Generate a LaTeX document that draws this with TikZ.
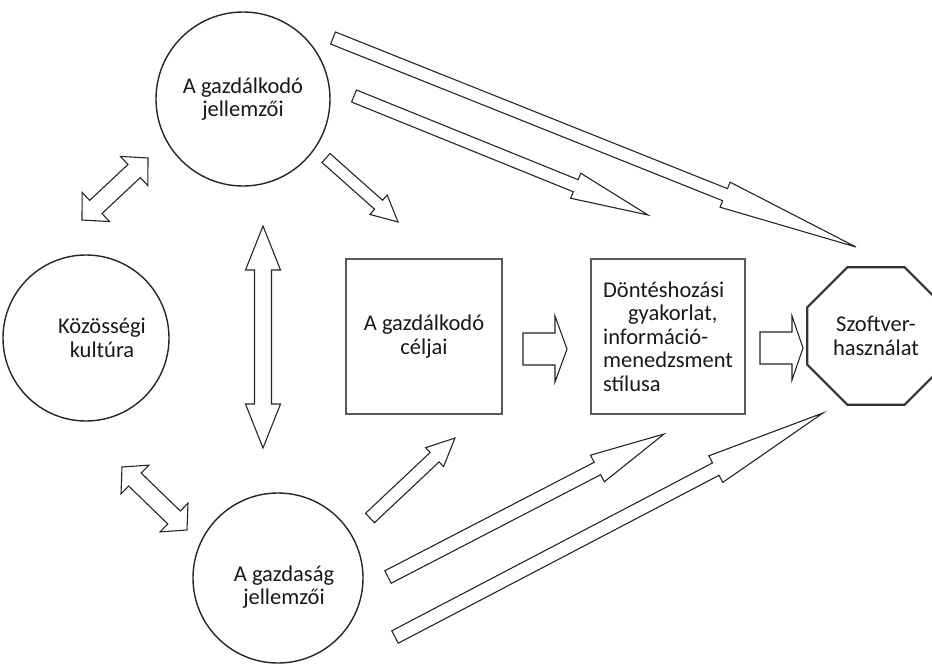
\documentclass[tikz,border=0pt]{standalone}
\usepackage{fontspec}
\setmainfont{Carlito}
\usetikzlibrary{calc,shapes.geometric}

% Hollow single-headed block arrow from #2 to #3:
% #4 shaft half width, #5 head half width, #6 head length
\newcommand\blockarrow[6][]{%
  \path ($(#3)!#6!(#2)$) coordinate (ba-c);
  \draw[#1] ($(#2)!#4!90:(#3)$) -- ($(ba-c)!#4!-90:(#2)$) -- ($(ba-c)!#5!-90:(#2)$)
    -- (#3) -- ($(ba-c)!#5!90:(#2)$) -- ($(ba-c)!#4!90:(#2)$)
    -- ($(#2)!#4!-90:(#3)$) -- cycle;
}
% Hollow double-headed block arrow between #2 and #3
\newcommand\dblarrow[6][]{%
  \path ($(#2)!#6!(#3)$) coordinate (da-a) ($(#3)!#6!(#2)$) coordinate (da-b);
  \draw[#1] (#2) -- ($(da-a)!#5!90:(#3)$) -- ($(da-a)!#4!90:(#3)$)
    -- ($(da-b)!#4!-90:(#2)$) -- ($(da-b)!#5!-90:(#2)$) -- (#3)
    -- ($(da-b)!#5!90:(#2)$) -- ($(da-b)!#4!90:(#2)$)
    -- ($(da-a)!#4!-90:(#3)$) -- ($(da-a)!#5!-90:(#3)$) -- cycle;
}

\begin{document}
\begin{tikzpicture}[x=1pt, y=-1pt,
  txt/.style={font=\fontsize{22.5pt}{23.5pt}\selectfont, text=black!90},
  bubble/.style={circle, draw=black!85, line width=1.4pt, inner sep=0pt, minimum size=#1},
  panel/.style={rectangle, draw=black!65, line width=1.2pt, inner sep=0pt, txt},
  octa/.style={regular polygon, regular polygon sides=8, draw=black!80, line width=2.2pt,
    inner sep=0pt, minimum size=149pt, txt, align=center},
  hollow/.style={draw=black!85, line width=1.1pt, fill=white, line join=miter},
]
\fill[white] (0,0) rectangle (932,664);
\useasboundingbox (0,0) rectangle (932,664);

% factors
\node[bubble=174, txt, align=center] (firm) at (243,99) {A gazdálkodó\\jellemzői};
\node[bubble=166, label={[txt, align=center, xshift=16pt]center:Közösségi\\kultúra}] (culture) at (86,338) {};
\node[bubble=170, label={[txt, align=center, xshift=6pt, yshift=-9pt]center:A gazdaság\\jellemzői}] (economy) at (278,578) {};

% process chain
\node[panel, minimum width=156pt, minimum height=155pt, align=center] (goals) at (424,336.5) {A gazdálkodó\\céljai};
\node[panel, minimum width=154pt, minimum height=155pt, align=left] (practice) at (668,336.5)
  {Döntéshozási\\\hspace*{25pt}gyakorlat,\\információ-\\menedzsment\\stílusa};
\node[octa] (software) at (876,336) {Szoftver-\\használat};

% arrow end points
\coordinate (firm-sw-s) at (333,38);   \coordinate (firm-sw-e) at (856,247);
\coordinate (firm-pr-s) at (354,96);   \coordinate (firm-pr-e) at (648,215);
\coordinate (firm-go-s) at (326,158);  \coordinate (firm-go-e) at (398,222);
\coordinate (eco-go-s) at (370,518);   \coordinate (eco-go-e) at (455,438);
\coordinate (eco-pr-s) at (388,577);   \coordinate (eco-pr-e) at (664,434);
\coordinate (eco-sw-s) at (395,637);   \coordinate (eco-sw-e) at (823,413);
\coordinate (cul-firm-a) at (82,220);  \coordinate (cul-firm-b) at (148,158);
\coordinate (cul-eco-a) at (122,467);  \coordinate (cul-eco-b) at (187,530);
\coordinate (firm-eco-a) at (263,226); \coordinate (firm-eco-b) at (263,448);
\coordinate (go-pr-s) at (523,349);    \coordinate (go-pr-e) at (567,349);
\coordinate (pr-sw-s) at (760,348);    \coordinate (pr-sw-e) at (803,348);

% influences of the firm
\blockarrow[hollow]{firm-sw-s}{firm-sw-e}{6.5pt}{13.5pt}{141pt}
\blockarrow[hollow]{firm-pr-s}{firm-pr-e}{6.5pt}{13.5pt}{78pt}
\blockarrow[hollow]{firm-go-s}{firm-go-e}{6pt}{13pt}{26pt}

% influences of the economy
\blockarrow[hollow]{eco-go-s}{eco-go-e}{6.5pt}{13pt}{28pt}
\blockarrow[hollow]{eco-pr-s}{eco-pr-e}{7pt}{15pt}{75pt}
\blockarrow[hollow]{eco-sw-s}{eco-sw-e}{7pt}{15pt}{121pt}

% mutual relations
\dblarrow[hollow]{cul-firm-a}{cul-firm-b}{9pt}{20pt}{19pt}
\dblarrow[hollow]{cul-eco-a}{cul-eco-b}{9pt}{20pt}{18pt}
\dblarrow[hollow]{firm-eco-a}{firm-eco-b}{8.5pt}{17.5pt}{44pt}

% chain arrows
\blockarrow[hollow]{go-pr-s}{go-pr-e}{16pt}{33pt}{12pt}
\blockarrow[hollow]{pr-sw-s}{pr-sw-e}{16pt}{32pt}{11pt}
\end{tikzpicture}
\end{document}
